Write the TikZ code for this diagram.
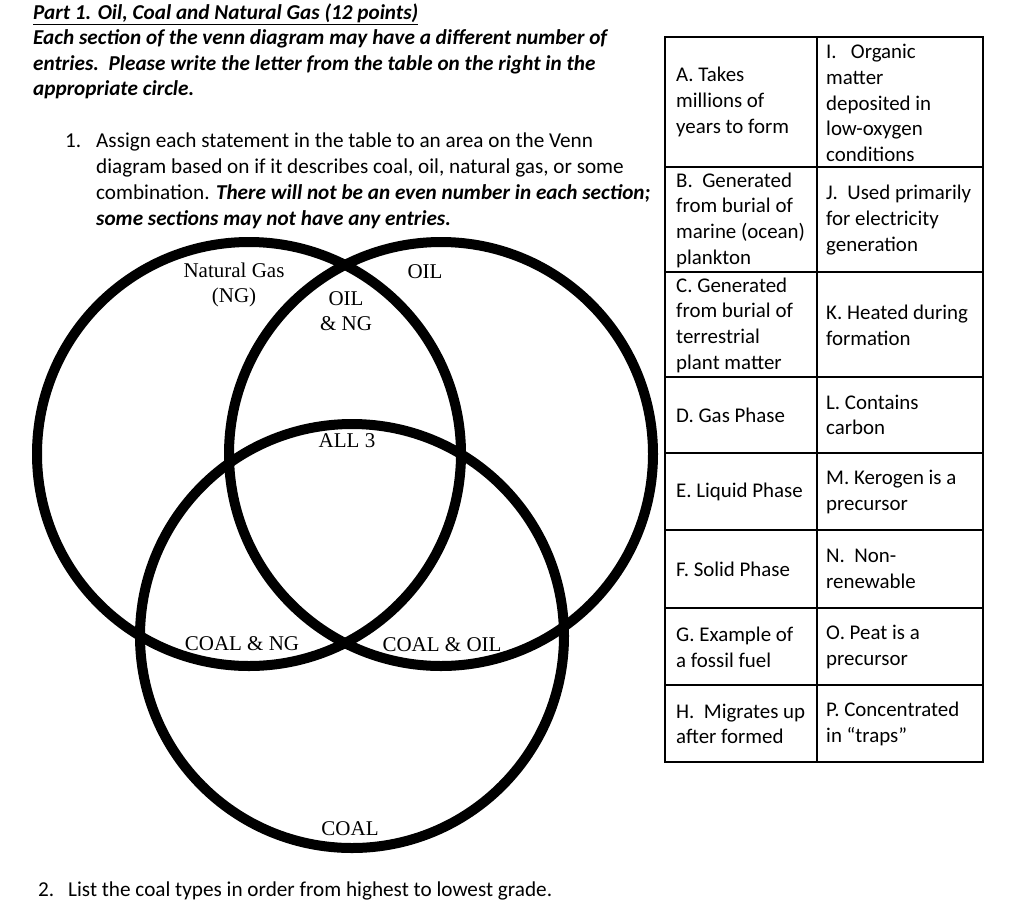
\documentclass[tikz,border=0pt]{standalone}
\usepackage{fontspec}
\setmainfont{Carlito}
\newfontfamily\timesf{Liberation Serif}
\begin{document}
\begin{tikzpicture}[x=1pt,y=-1pt,
  body/.style={inner sep=0pt, anchor=base west, font=\fontsize{21.2}{26}\selectfont},
  bodybi/.style={inner sep=0pt, anchor=base west, font=\fontsize{21.2}{26}\selectfont\bfseries\itshape},
  venn/.style={line width=10pt, draw=black},
  lab/.style={font=\timesf\fontsize{21}{25}\selectfont, align=center, inner sep=0pt},
  cell/.style={anchor=west, align=left, inner sep=0pt, font=\fontsize{20.9}{25.7}\selectfont},
  grid/.style={line width=1.3pt}]
\useasboundingbox (0,0) rectangle (1024,913);
\fill[white] (0,0) rectangle (1024,913);

% heading
\node[bodybi] (t0) at (33,19) {\underline{Part 1. Oil, Coal and Natural Gas (12 points)}};
\node[bodybi] (t1) at (33,44) {Each section of the venn diagram may have a different number of};
\node[bodybi] (t2) at (33,70) {entries.\ \ Please write the letter from the table on the right in the};
\node[bodybi] (t3) at (33,95) {appropriate circle.};

% question 1
\node[body] (q1n) at (65,147) {1.};
\node[body] (q1a) at (96,147) {Assign each statement in the table to an area on the Venn};
\node[body] (q1b) at (96,173) {diagram based on if it describes coal, oil, natural gas, or some};
\node[body] (q1c) at (96,199) {combination. \textbf{\textit{There will not be an even number in each section;}}};
\node[bodybi] (q1d) at (96,225) {some sections may not have any entries.};

% Venn circles
\draw[venn] (249,454) circle[radius=212pt];
\draw[venn] (441,454) circle[radius=212pt];
\draw[venn] (352,636) circle[radius=212pt];

% Venn labels
\node[lab] (ng) at (234,285) {Natural Gas\\(NG)};
\node[lab] (oil) at (425,272) {OIL};
\node[lab] (oilng) at (346,311) {OIL\\\& NG};
\node[lab] (all) at (347,441) {ALL 3};
\node[lab] (coalng) at (242,644) {COAL \& NG};
\node[lab] (coaloil) at (442,645) {COAL \& OIL};
\node[lab] (coal) at (350,829) {COAL};

% question 2
\node[body] (q2n) at (38,896) {2.};
\node[body] (q2a) at (68,896) {List the coal types in order from highest to lowest grade.};

% table grid
\draw[grid] (665,37) rectangle (983,762);
\draw[grid] (817,37) -- (817,762);
\foreach \yy in {167,272,377,453,530,608,685} \draw[grid] (665,\yy) -- (983,\yy);

% table cells
\node[cell] (cA) at (676,102) {A. Takes\\millions of\\years to form};
\node[cell] (cI) at (826,103) {I.\ \ \ Organic\\matter\\deposited in\\low-oxygen\\conditions};
\node[cell] (cB) at (676,220) {B.\ \ Generated\\from burial of\\marine (ocean)\\plankton};
\node[cell] (cJ) at (826,220) {J.\ \ Used primarily\\for electricity\\generation};
\node[cell] (cC) at (676,325) {C. Generated\\from burial of\\terrestrial\\plant matter};
\node[cell] (cK) at (826,325) {K. Heated during\\formation};
\node[cell] (cD) at (676,415) {D. Gas Phase};
\node[cell] (cL) at (826,415) {L. Contains\\carbon};
\node[cell] (cE) at (676,492) {E. Liquid Phase};
\node[cell] (cM) at (826,492) {M. Kerogen is a\\precursor};
\node[cell] (cF) at (676,569) {F. Solid Phase};
\node[cell] (cN) at (826,569) {N.\ \ Non-\\renewable};
\node[cell] (cG) at (676,647) {G. Example of\\a fossil fuel};
\node[cell] (cO) at (826,647) {O. Peat is a\\precursor};
\node[cell] (cH) at (676,724) {H.\ \ Migrates up\\after formed};
\node[cell] (cP) at (826,724) {P. Concentrated\\in “traps”};
\end{tikzpicture}
\end{document}
